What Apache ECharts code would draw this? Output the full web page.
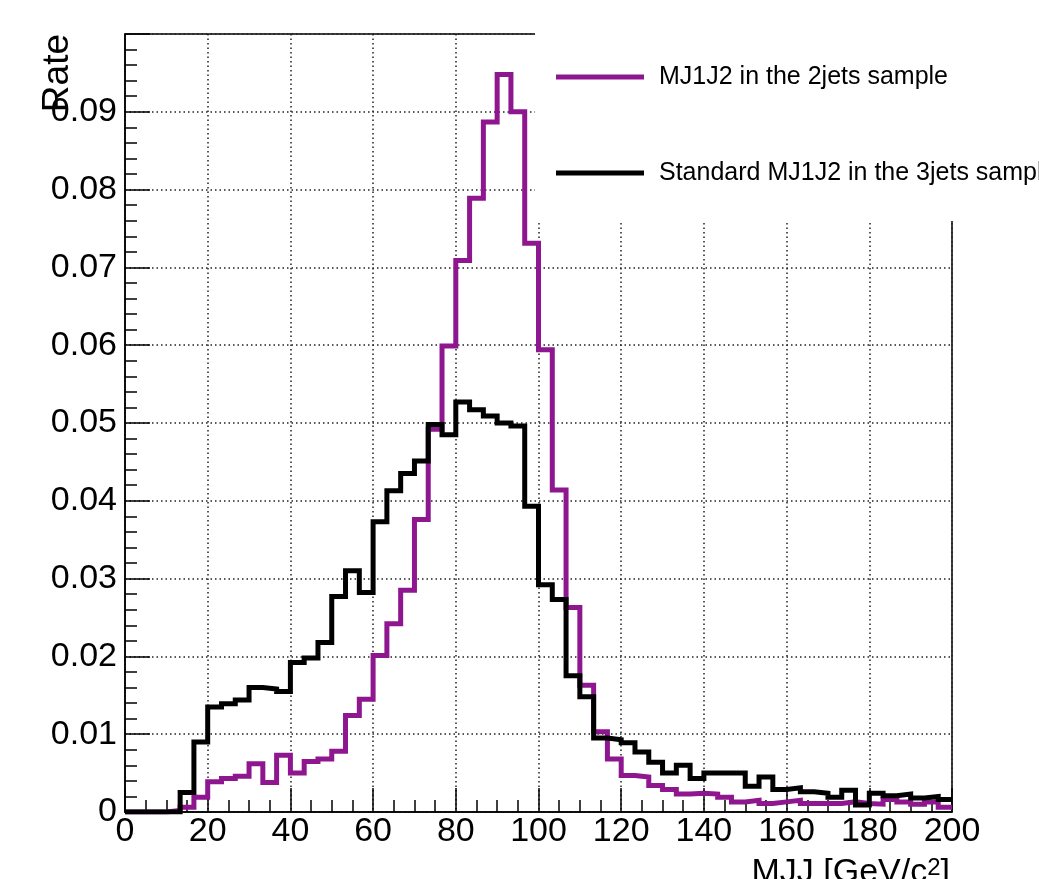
<!DOCTYPE html>
<html>
<head>
<meta charset="utf-8">
<script src="https://cdn.jsdelivr.net/npm/echarts@6/dist/echarts.min.js"></script>
<style>
  html, body { margin: 0; padding: 0; background: #fff; }
  #main { width: 1039px; height: 879px; }
</style>
</head>
<body>
<div id="main"></div>
<script>
// MJ1J2 distributions, 60 bins from 0 to 200 GeV/c^2
var xMin = 0, xMax = 200, nBins = 60;
var names = ['MJ1J2 in the 2jets sample', 'Standard MJ1J2 in the 3jets sample'];
var colors = ['#8e168e', '#000000'];

var rate2jets = [
    0, 0, 0, 0.0002, 0.0006, 0.0019, 0.0039, 0.0043, 0.0046, 0.0062,
    0.0038, 0.0073, 0.0050, 0.0065, 0.0068, 0.0078, 0.0124, 0.0145, 0.0201, 0.0242,
    0.0285, 0.0376, 0.0492, 0.0599, 0.0709, 0.0789, 0.0887, 0.0948, 0.0900, 0.0731,
    0.0594, 0.0414, 0.0263, 0.0163, 0.0103, 0.0068, 0.0047, 0.0045, 0.0034, 0.0029,
    0.0023, 0.0024, 0.0023, 0.0019, 0.0013, 0.0015, 0.0011, 0.0013, 0.0015, 0.0011,
    0.0011, 0.0011, 0.0013, 0.0011, 0.0010, 0.0016, 0.0013, 0.0010, 0.0013, 0.0006
];
var rate3jets = [
    0, 0, 0, 0, 0.0025, 0.0090, 0.0135, 0.0139, 0.0144, 0.0160,
    0.0158, 0.0155, 0.0192, 0.0198, 0.0218, 0.0277, 0.0310, 0.0282, 0.0373, 0.0413,
    0.0435, 0.0451, 0.0498, 0.0485, 0.0527, 0.0517, 0.0509, 0.0500, 0.0496, 0.0393,
    0.0292, 0.0273, 0.0175, 0.0148, 0.0095, 0.0093, 0.0089, 0.0077, 0.0064, 0.0050,
    0.0060, 0.0043, 0.0050, 0.0050, 0.0050, 0.0033, 0.0045, 0.0029, 0.0031, 0.0026,
    0.0024, 0.0019, 0.0028, 0.0009, 0.0024, 0.0021, 0.0023, 0.0018, 0.0020, 0.0016
];

// bin left edges -> step points, plus the closing edge
var histPoints = function (vals) {
    var w = (xMax - xMin) / nBins;
    var pts = [];
    for (var i = 0; i < vals.length; i++) {
        pts.push([xMin + i * w, vals[i]]);
    }
    pts.push([xMax, vals[vals.length - 1]]);
    return pts;
};

var font = '"Liberation Sans", Arial, Helvetica, sans-serif';
var gridDots = { color: '#222', width: 1.5, type: [1.5, 3] };

var myChart = echarts.init(document.getElementById('main'));
var option = {
    backgroundColor: '#fff',
    animation: false,
    grid: {
        left: 125, right: 87, top: 34, bottom: 67,
        show: true, borderColor: '#000', borderWidth: 1.5, backgroundColor: 'transparent'
    },
    xAxis: {
        type: 'value', min: 0, max: 200, interval: 20,
        axisLine: { lineStyle: { color: '#000', width: 1.5 } },
        axisTick: { inside: true, length: 24, lineStyle: { color: '#000', width: 1.5 } },
        minorTick: { show: true, splitNumber: 4, length: 12, lineStyle: { color: '#000', width: 1.5 } },
        axisLabel: { color: '#000', fontSize: 34, fontFamily: font, margin: 3 },
        splitLine: { show: true, lineStyle: gridDots }
    },
    yAxis: {
        type: 'value', min: 0, max: 0.1, interval: 0.01,
        axisLine: { show: true, lineStyle: { color: '#000', width: 1.5 } },
        axisTick: { show: true, inside: true, length: 25, lineStyle: { color: '#000', width: 1.5 } },
        minorTick: { show: true, splitNumber: 5, length: 12, lineStyle: { color: '#000', width: 1.5 } },
        axisLabel: {
            color: '#000', fontSize: 34, fontFamily: font, margin: 8,
            formatter: function (v) {
                if (v === 0) return '0';
                if (v > 0.0995) return '';
                return v.toFixed(2);
            }
        },
        splitLine: { show: true, lineStyle: gridDots }
    },
    legend: {
        data: names,
        orient: 'vertical',
        left: 551, top: 57,
        z: 200,
        icon: 'rect',
        itemWidth: 88, itemHeight: 5,
        itemGap: 66,
        textStyle: { color: '#000', fontSize: 25, fontFamily: font, lineHeight: 30, padding: [0, 0, 0, 10] }
    },
    graphic: [
        {
            type: 'rect', z: 150,
            shape: { x: 535, y: 0, width: 504, height: 221 },
            style: { fill: '#fff' }
        },
        {
            type: 'text', z: 160,
            x: 58, y: 34, rotation: Math.PI / 2,
            style: {
                text: 'Rate', fill: '#000', font: '37px ' + font,
                align: 'right', verticalAlign: 'middle'
            }
        },
        {
            type: 'text', z: 160,
            x: 950, y: 856,
            style: {
                text: '{a|MJJ [GeV/c}{s|2}{a|]}',
                align: 'right', verticalAlign: 'top',
                rich: {
                    a: { fontSize: 34, fontFamily: font, fill: '#000', color: '#000', verticalAlign: 'bottom' },
                    s: { fontSize: 24, fontFamily: font, fill: '#000', color: '#000', verticalAlign: 'top' }
                }
            }
        }
    ],
    series: [
        {
            name: names[0], type: 'line', step: 'end', showSymbol: false,
            data: histPoints(rate2jets),
            itemStyle: { color: colors[0] },
            lineStyle: { color: colors[0], width: 5, join: 'miter', cap: 'butt' },
            z: 3
        },
        {
            name: names[1], type: 'line', step: 'end', showSymbol: false,
            data: histPoints(rate3jets),
            itemStyle: { color: colors[1] },
            lineStyle: { color: colors[1], width: 5, join: 'miter', cap: 'butt' },
            z: 4
        }
    ]
};
myChart.setOption(option);
</script>
</body>
</html>
